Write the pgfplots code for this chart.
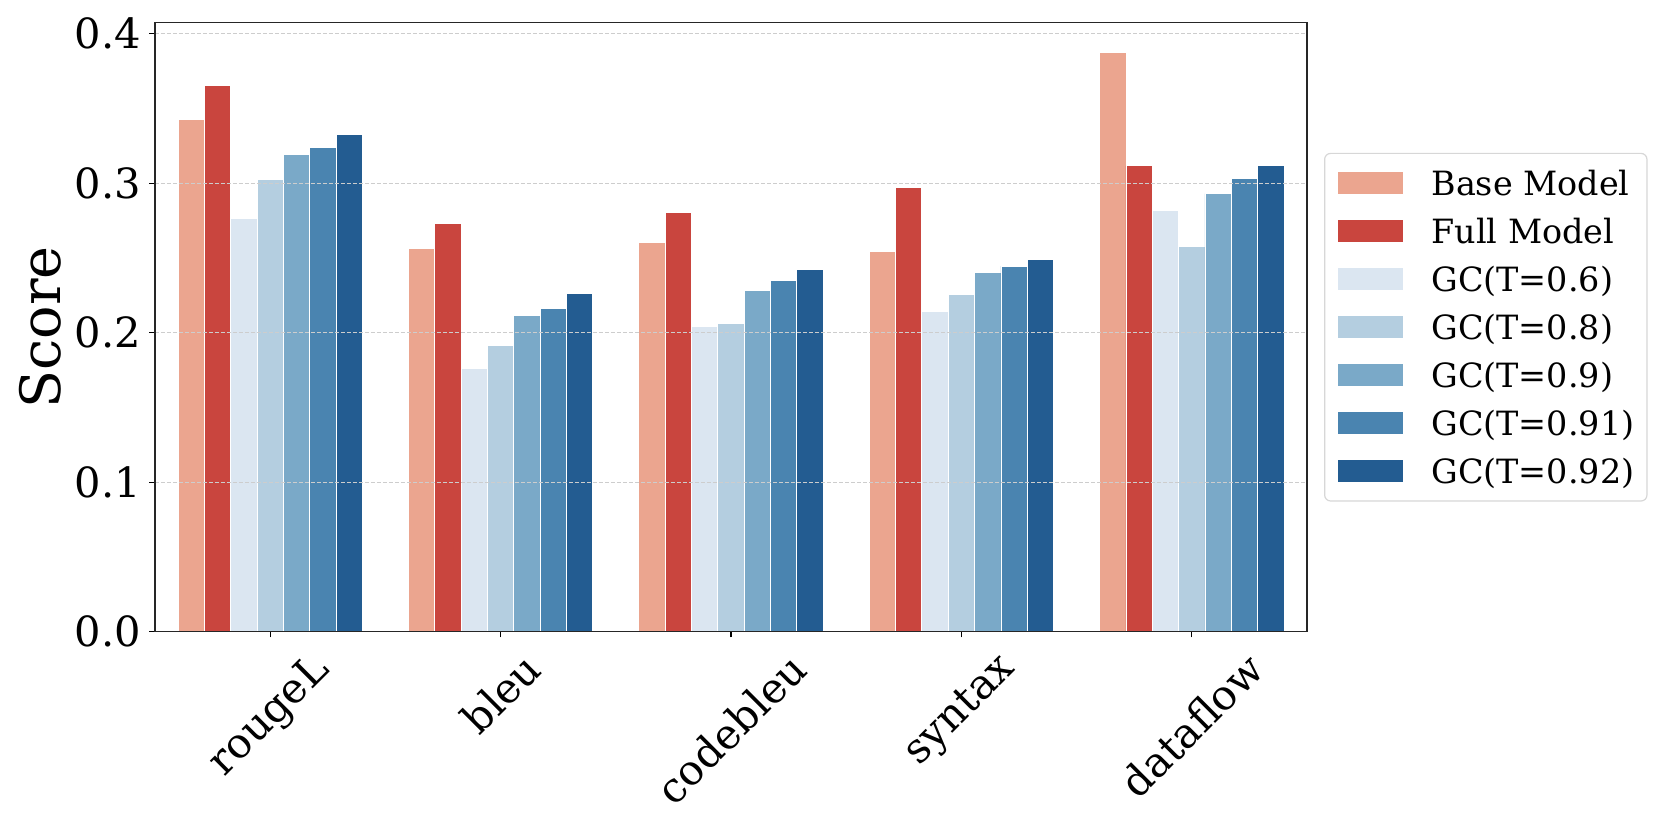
\documentclass[border=0pt]{standalone}
\usepackage{fontspec}
\setmainfont{DejaVu Serif}
\usepackage{pgfplots}
\pgfplotsset{compat=1.18}
\definecolor{cBase}{RGB}{235,165,143}
\definecolor{cFull}{RGB}{201,69,62}
\definecolor{cG6}{RGB}{219,230,241}
\definecolor{cG8}{RGB}{180,206,224}
\definecolor{cG9}{RGB}{122,169,200}
\definecolor{cG91}{RGB}{74,132,176}
\definecolor{cG92}{RGB}{35,92,145}
\definecolor{gridc}{RGB}{205,205,205}
\definecolor{legc}{RGB}{215,215,215}
\begin{document}
\begin{tikzpicture}
\begin{axis}[
  scale only axis, width=576pt, height=304.5pt,
  xmin=-0.5, xmax=4.5, ymin=0, ymax=0.4074,
  ybar=0pt, bar width=0.1143,
  xtick={0,1,2,3,4},
  xticklabels={\rotatebox{45}{rougeL},\rotatebox{45}{bleu},\rotatebox{45}{codebleu},\rotatebox{45}{syntax},\rotatebox{45}{dataflow}},
  ytick={0,0.1,0.2,0.3,0.4},
  yticklabel style={/pgf/number format/fixed, /pgf/number format/fixed zerofill, /pgf/number format/precision=1, /pgf/number format/assume math mode=true},
  ticklabel style={font=\fontsize{20.8}{24}\selectfont},
  xticklabel style={anchor=north, inner sep=0pt, yshift=-6pt},
  yticklabel style={anchor=east, inner sep=0pt, xshift=-4pt},
  tick align=outside, xtick pos=left, ytick pos=left,
  major tick length=2.85pt,
  tick style={black, line width=0.6pt},
  axis line style={black!85, line width=0.6pt},
  ymajorgrids,
  grid style={gridc, line width=0.45pt, dash pattern=on 1.8pt off 1.2pt},
  axis on top,
  ylabel={Score},
  ylabel style={at={(axis description cs:-0.0998,0.5)}, anchor=center, font=\fontsize{27.8}{32}\selectfont},
  legend image code/.code={\draw[#1, sharp corners] (0pt,-5.75pt) rectangle (33pt,5.75pt);},
  legend style={at={(1.0148,0.5)}, anchor=west, draw=legc, line width=0.6pt, rounded corners=3pt, fill=white,
    font=\fontsize{16.7}{20}\selectfont, inner xsep=6.3pt, inner ysep=7.3pt, row sep=8.8pt,
    nodes={inner sep=0pt, text height=13.7pt, text depth=1.5pt},
    /tikz/every odd column/.append style={column sep=13.7pt}},
  legend cell align=left,
]
\addplot[fill=cBase, draw=white, line width=0.4pt] coordinates {(0,0.3425) (1,0.2566) (2,0.2604) (3,0.2544) (4,0.3875)};
\addplot[fill=cFull, draw=white, line width=0.4pt] coordinates {(0,0.3654) (1,0.2731) (2,0.2803) (3,0.2974) (4,0.3117)};
\addplot[fill=cG6, draw=white, line width=0.4pt] coordinates {(0,0.2762) (1,0.1764) (2,0.2040) (3,0.2142) (4,0.2818)};
\addplot[fill=cG8, draw=white, line width=0.4pt] coordinates {(0,0.3025) (1,0.1913) (2,0.2064) (3,0.2254) (4,0.2577)};
\addplot[fill=cG9, draw=white, line width=0.4pt] coordinates {(0,0.3190) (1,0.2116) (2,0.2283) (3,0.2401) (4,0.2930)};
\addplot[fill=cG91, draw=white, line width=0.4pt] coordinates {(0,0.3240) (1,0.2163) (2,0.2348) (3,0.2446) (4,0.3030)};
\addplot[fill=cG92, draw=white, line width=0.4pt] coordinates {(0,0.3326) (1,0.2261) (2,0.2423) (3,0.2490) (4,0.3117)};
\legend{Base Model, Full Model, GC(T=0.6), GC(T=0.8), GC(T=0.9), GC(T=0.91), GC(T=0.92)}
\end{axis}
\pgfresetboundingbox
\path (-77.5pt,-99.15pt) rectangle (753pt,315.85pt);
\end{tikzpicture}
\end{document}
